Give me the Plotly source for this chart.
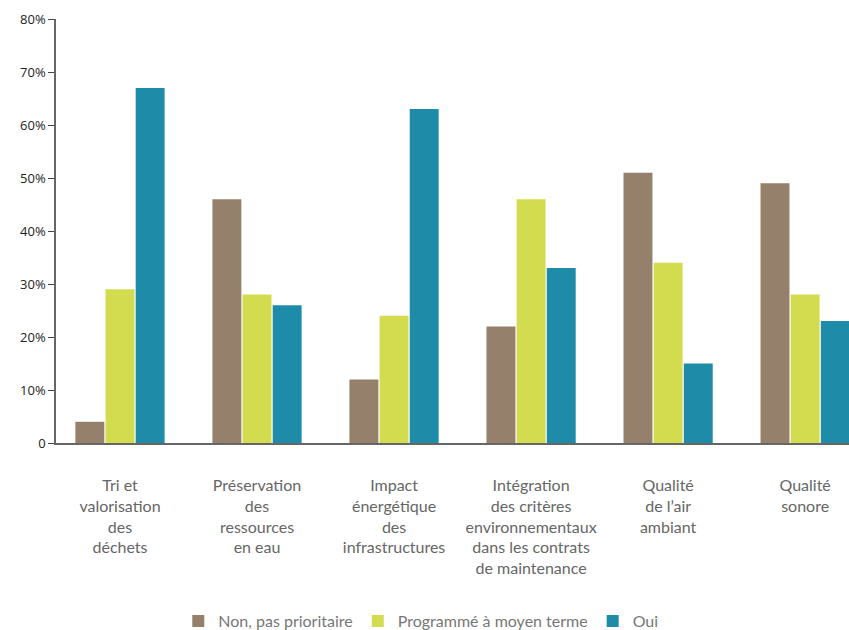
import plotly.graph_objects as go

categories = [
    "Tri et<br>valorisation<br>des<br>déchets",
    "Préservation<br>des<br>ressources<br>en eau",
    "Impact<br>énergétique<br>des<br>infrastructures",
    "Intégration<br>des critères<br>environnementaux<br>dans les contrats<br>de maintenance",
    "Qualité<br>de l’air<br>ambiant",
    "Qualité<br>sonore",
]
non_prioritaire = [4, 46, 12, 22, 51, 49]
moyen_terme = [29, 28, 24, 46, 34, 28]
oui = [67, 26, 63, 33, 15, 23]

series = [
    ("Non, pas prioritaire", non_prioritaire, "#95806b"),
    ("Programmé à moyen terme", moyen_terme, "#d3dc4e"),
    ("Oui", oui, "#1e8ca8"),
]

y_ticks = [0, 10, 20, 30, 40, 50, 60, 70, 80]
y_ticktext = ["0"] + [f"{v}%" for v in y_ticks[1:]]

xpos = list(range(len(categories)))

fig = go.Figure()
for name, vals, color in series:
    fig.add_trace(go.Bar(
        x=xpos, y=vals, name=name,
        marker=dict(color=color, line=dict(width=0)),
    ))

fig.update_layout(
    width=849, height=630,
    margin=dict(l=56, r=0, t=19, b=187, autoexpand=False),
    plot_bgcolor="white", paper_bgcolor="white",
    barmode="group", bargap=0.34, bargroupgap=0.04,
    font=dict(family="Lato, sans-serif", color="#666666"),
    showlegend=True,
    legend=dict(
        orientation="h",
        x=0.46, xanchor="center", y=-0.42, yanchor="middle",
        font=dict(size=16, color="#777777"),
        itemwidth=30, traceorder="normal",
    ),
)

fig.update_xaxes(
    range=[-0.467, 5.32],
    tickvals=xpos, ticktext=categories,
    showline=True, linecolor="#666666", linewidth=1.5,
    ticks="", showgrid=False, zeroline=False,
    tickangle=0, automargin=False,
    tickfont=dict(size=16, color="#666666"),
    ticklabelstandoff=27,
)
fig.update_yaxes(
    range=[0, 80],
    tickvals=y_ticks, ticktext=y_ticktext,
    showline=True, linecolor="#666666", linewidth=1.5,
    ticks="outside", ticklen=6, tickcolor="#444444", tickwidth=1,
    showgrid=False, zeroline=False, automargin=False,
    tickfont=dict(family="Open Sans, sans-serif", size=13, color="#222222"),
)

fig.write_html("out.html")
